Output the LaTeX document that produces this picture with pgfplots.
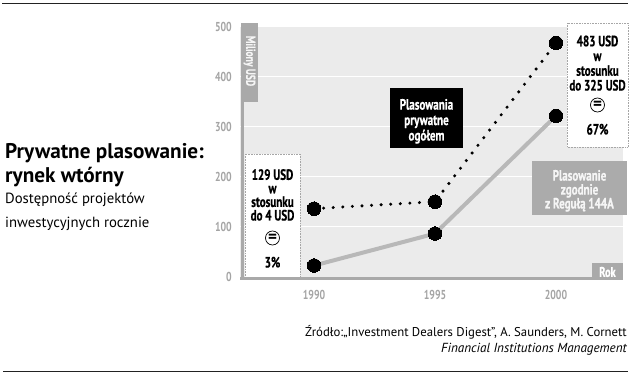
\documentclass[border=0pt]{standalone}
\usepackage{pgfplots}
\pgfplotsset{compat=1.18}
\usepackage{fontspec}
\setmainfont{PT Sans}
\newfontfamily\cond[FakeStretch=0.74, FakeBold=0.6]{PT Sans}
\newfontfamily\condt[FakeStretch=0.76]{PT Sans}
\definecolor{bg}{HTML}{EBEBEB}
\definecolor{ax}{HTML}{A9A9A9}
\definecolor{tk}{HTML}{A4A4A4}
\definecolor{ln}{HTML}{B8B8B8}
\definecolor{bx}{HTML}{ABABAB}
\definecolor{rule}{HTML}{222222}
\begin{document}
\begin{tikzpicture}
\path[use as bounding box] (0,0) rectangle (631bp,376bp);
\begin{axis}[
  at={(240bp,97bp)}, anchor=south west,
  scale only axis, width=383bp, height=252bp,
  xmin=1986.94, xmax=2002.77, ymin=-5, ymax=500,
  clip=false,
  axis background/.style={fill=bg},
  axis line style={draw=none},
  major tick length=0pt,
  xtick={1990,1995,2000},
  ytick={100,200,300,400},
  extra y ticks={0,500},
  extra y tick style={grid=none},
  ymajorgrids,
  grid style={white, line width=1.2bp},
  /pgf/number format/assume math mode=true,
  /pgf/number format/set thousands separator={},
  ticklabel style={font=\condt\bfseries\fontsize{13}{14}\selectfont, text=tk},
  yticklabel style={anchor=east, inner sep=0pt, xshift=-8bp},
  xticklabel style={anchor=center, inner sep=0pt, yshift=-16bp},
]
\addplot[ln, line width=4bp, mark=*, mark size=6.8bp,
  mark options={solid, fill=black, draw=black, line width=0pt}]
  coordinates {(1990,22) (1995,86) (2000,322)};
\addplot[black, line width=3.4bp, line cap=round, dash pattern=on 0bp off 9.6bp,
  mark=*, mark size=6.8bp,
  mark options={solid, fill=black, draw=black, line width=0pt}]
  coordinates {(1990,136) (1995,150) (2000,468)};
\end{axis}
\begin{scope}[x=1bp, y=-1bp, shift={(0,376bp)}]
  % rules
  \draw[rule, line width=1.3bp] (2,3.5) -- (628,3.5);
  \draw[rule, line width=1.3bp] (3,371.5) -- (628,371.5);
  % titles
  \node[anchor=base west, inner sep=0, font=\bfseries\fontsize{21.3}{24}\selectfont] at (5,159) {Prywatne plasowanie:};
  \node[anchor=base west, inner sep=0, font=\bfseries\fontsize{21.3}{24}\selectfont] at (5,183) {rynek wtórny};
  \node[anchor=base west, inner sep=0, font=\fontsize{14.8}{16}\selectfont] at (5,204) {Dostępność projektów};
  \node[anchor=base west, inner sep=0, font=\fontsize{14.8}{16}\selectfont] at (5,228) {inwestycyjnych rocznie};
  % source
  \node[anchor=base east, inner sep=0, font=\fontsize{12.8}{14}\selectfont] at (627,337) {Źródło:„Investment Dealers Digest”, A. Saunders, M. Cornett};
  \node[anchor=base east, inner sep=0, font=\itshape\fontsize{13.2}{14}\selectfont] at (627,353) {Financial Institutions Management};
  % left annotation box
  \draw[gray!70, line width=0.6bp, densely dotted, fill=white] (245,154) rectangle (300,277);
  \node[anchor=base, inner sep=0, align=center, font=\cond\bfseries\fontsize{15}{13.6}\selectfont] at (272.5,220.5) {129 USD\\w\\stosunku\\do 4 USD};
  \node[circle, draw=black, line width=0.7bp, inner sep=0, minimum size=14bp, font=\bfseries\fontsize{17}{17}\selectfont] at (272.5,238) {=};
  \node[anchor=base, inner sep=0, font=\cond\bfseries\fontsize{15}{13.6}\selectfont] at (272.5,267.5) {3\%};
  % right annotation box
  \draw[gray!70, line width=0.6bp, densely dotted, fill=white] (567,23) rectangle (628,147);
  \node[anchor=base, inner sep=0, align=center, font=\cond\bfseries\fontsize{15}{14.8}\selectfont] at (597.5,90.5) {483 USD\\w\\stosunku\\do 325 USD};
  \node[circle, draw=black, line width=0.7bp, inner sep=0, minimum size=14bp, font=\bfseries\fontsize{17}{17}\selectfont] at (597.5,105) {=};
  \node[anchor=base, inner sep=0, font=\cond\bfseries\fontsize{15}{13.6}\selectfont] at (597.5,134.5) {67\%};
  % black box
  \fill[black] (390,88) rectangle (463,148);
  \node[anchor=base, inner sep=0, align=center, text=white, font=\cond\bfseries\fontsize{15}{15.5}\selectfont] at (426.5,140.5) {Plasowania\\prywatne\\ogółem};
  % gray box
  \fill[bx] (532,161) rectangle (627,215);
  \node[anchor=base, inner sep=0, align=center, text=white!92!gray, font=\cond\bfseries\fontsize{15}{14}\selectfont] at (579.5,208.5) {Plasowanie\\zgodnie\\z Regułą 144A};
  % axis bars
  \fill[ax] (240,277) rectangle (593,280.5);
  \fill[ax] (240.5,23) rectangle (244,280.5);
  \fill[ax] (240.5,23) rectangle (258,102);
  \node[rotate=-90, text=white!92!gray, inner sep=0, font=\cond\bfseries\fontsize{13}{12}\selectfont] at (249.5,61) {Miliony USD};
  \fill[ax] (592,263) rectangle (623,280.5);
  \node[text=white, inner sep=0, font=\cond\bfseries\fontsize{14}{12}\selectfont] at (607.5,272) {Rok};
\end{scope}
\end{tikzpicture}
\end{document}
